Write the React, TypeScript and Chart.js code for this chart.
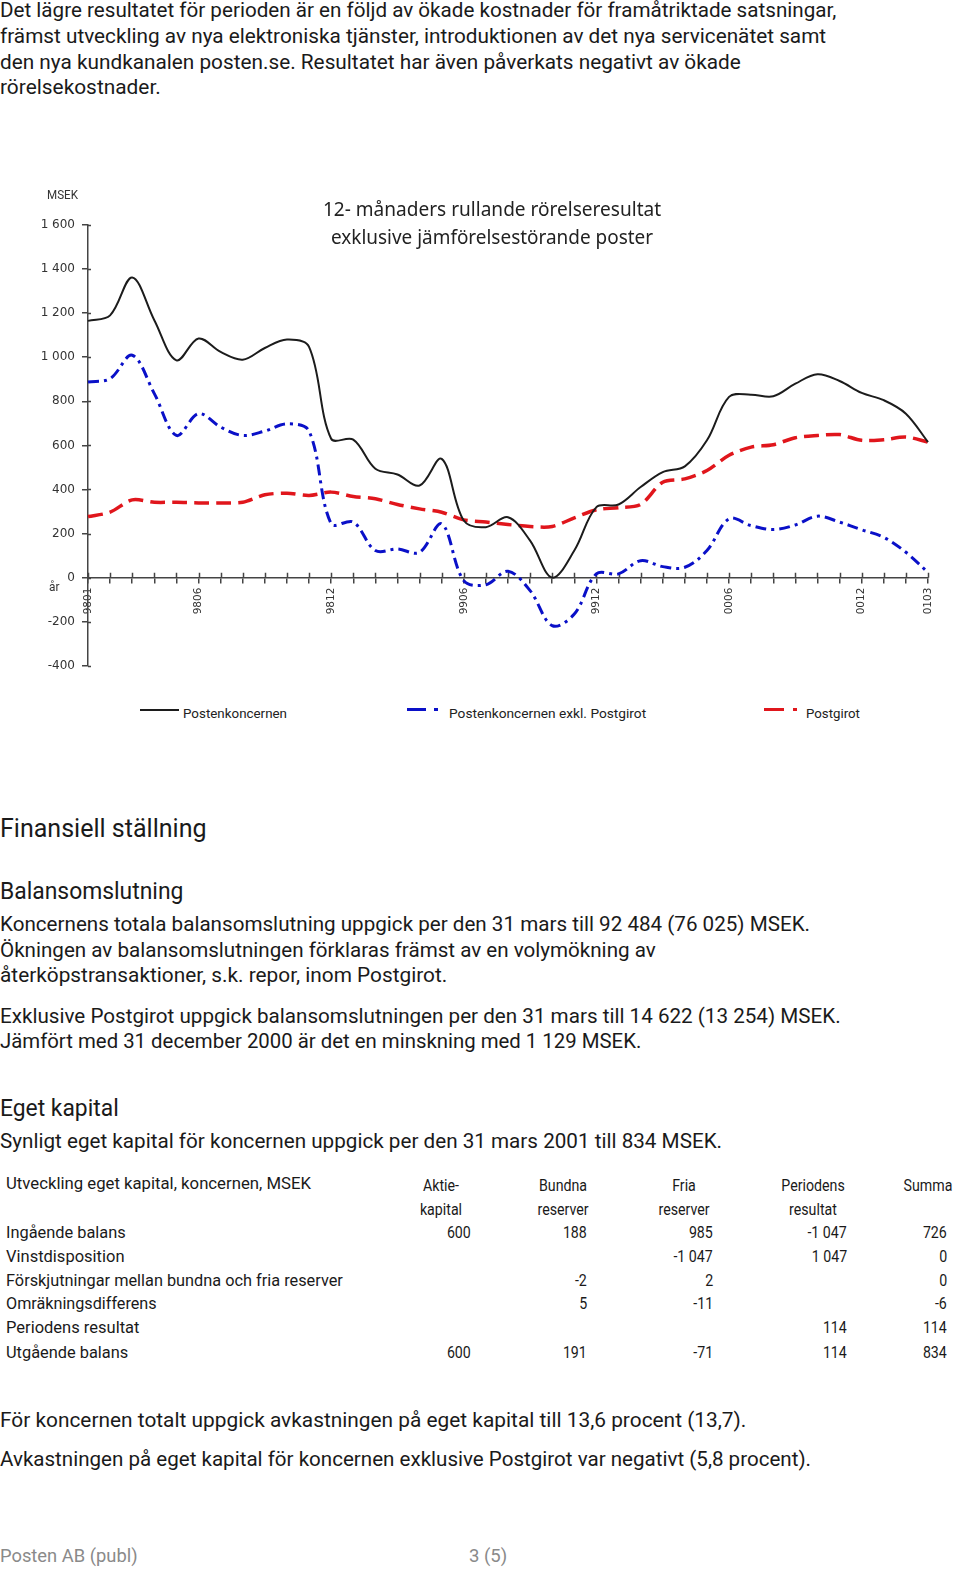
import React, { useEffect, useLayoutEffect, useRef } from 'react';
import { Chart, registerables } from 'chart.js';

Chart.register(...registerables);

// ---------- chart data ----------
const MONTHS = [
  '9801', '9802', '9803', '9804', '9805', '9806', '9807', '9808', '9809', '9810', '9811', '9812',
  '9901', '9902', '9903', '9904', '9905', '9906', '9907', '9908', '9909', '9910', '9911', '9912',
  '0001', '0002', '0003', '0004', '0005', '0006', '0007', '0008', '0009', '0010', '0011', '0012',
  '0101', '0102', '0103',
];
const SHOWN_MONTHS = ['9801', '9806', '9812', '9906', '9912', '0006', '0012', '0103'];
const Y_TICK_VALUES = [-400, -200, 0, 200, 400, 600, 800, 1000, 1200, 1400, 1600];

const SERIES_NAMES = ['Postenkoncernen', 'Postenkoncernen exkl. Postgirot', 'Postgirot'];

const POSTENKONCERNEN = [
  1165, 1190, 1362, 1168, 986, 1085, 1024, 989, 1042, 1080, 1047, 630,
  626, 494, 468, 418, 539, 259, 229, 274, 168, 0, 123, 320,
  332, 411, 479, 505, 623, 820, 830, 823, 880, 923, 892, 838,
  805, 744, 615,
];
const EXKL_POSTGIROT = [
  888, 903, 1009, 835, 645, 744, 683, 645, 665, 698, 665, 245,
  252, 123, 130, 115, 244, -14, -32, 29, -59, -218, -165, 17,
  17, 77, 50, 47, 123, 267, 236, 218, 239, 279, 252, 217,
  183, 115, 24,
];
const POSTGIROT = [
  277, 297, 353, 342, 342, 339, 339, 342, 376, 383, 373, 388,
  368, 358, 332, 312, 297, 262, 252, 241, 232, 232, 271, 308,
  317, 332, 433, 448, 486, 555, 592, 603, 635, 645, 649, 623,
  626, 638, 615,
];

const CHART_TITLE = ['12- månaders rullande rörelseresultat', 'exklusive jämförelsestörande poster'];

// ---------- page text data ----------
const INTRO_LINES = [
  'Det lägre resultatet för perioden är en följd av ökade kostnader för framåtriktade satsningar,',
  'främst utveckling av nya elektroniska tjänster, introduktionen av det nya servicenätet samt',
  'den nya kundkanalen posten.se. Resultatet har även påverkats negativt av ökade',
  'rörelsekostnader.',
];
const TABLE_TITLE = 'Utveckling eget kapital, koncernen, MSEK';
const TABLE_COLUMNS = [
  ['Aktie-', 'kapital'],
  ['Bundna', 'reserver'],
  ['Fria', 'reserver'],
  ['Periodens', 'resultat'],
  ['Summa', ''],
];
const TABLE_ROWS = [
  'Ingående balans',
  'Vinstdisposition',
  'Förskjutningar mellan bundna och fria reserver',
  'Omräkningsdifferens',
  'Periodens resultat',
  'Utgående balans',
];
const TABLE_VALUES = [
  ['600', '188', '985', '-1 047', '726'],
  ['', '', '-1 047', '1 047', '0'],
  ['', '-2', '2', '', '0'],
  ['', '5', '-11', '', '-6'],
  ['', '', '', '114', '114'],
  ['600', '191', '-71', '114', '834'],
];

// ---------- styles ----------
const BODY_FONT = 'Roboto, "Noto Sans", sans-serif';
const TEXT = '#1a1a1a';
const AXIS = '#444';

type TP = {
  x: number; y: number; size: number; w?: number; sx?: number;
  align?: 'left' | 'center' | 'right'; color?: string; family?: string; weight?: number;
  children: React.ReactNode;
};

function T({ x, y, size, w, sx = 1, align = 'left', color = TEXT, family = BODY_FONT, weight = 400, children }: TP) {
  const ref = useRef<HTMLSpanElement>(null);
  useLayoutEffect(() => {
    const el = ref.current;
    if (!el) return;
    const apply = () => {
      let s = sx;
      if (w) {
        const m = el.offsetWidth;
        if (m > 0) s = w / m;
      }
      el.style.transform = align === 'center' ? `translateX(-50%) scaleX(${s})` : `scaleX(${s})`;
    };
    apply();
    const f = (document as any).fonts;
    if (f && f.ready) f.ready.then(apply);
  }, [w, sx, align]);
  const style: React.CSSProperties = {
    position: 'absolute',
    top: y - size * 0.64 + 3.5,
    fontSize: size,
    lineHeight: `${size * 1.2}px`,
    whiteSpace: 'nowrap',
    fontFamily: family,
    color,
    fontWeight: weight,
    transformOrigin: align === 'right' ? 'right center' : align === 'center' ? 'center center' : 'left center',
  };
  if (align === 'right') style.right = 960 - x;
  else style.left = x;
  return <span ref={ref} style={style}>{children}</span>;
}

function fmtThousands(v: number): string {
  const a = Math.abs(v);
  const s = a >= 1000 ? `${Math.floor(a / 1000)} ${String(a % 1000).padStart(3, '0')}` : String(a);
  return v < 0 ? `-${s}` : s;
}

const crossTicks = {
  id: 'crossTicks',
  beforeDatasetsDraw(chart: any) {
    const xs = chart.scales.x;
    const ys = chart.scales.y;
    const y0 = ys.getPixelForValue(0);
    const ctx = chart.ctx;
    ctx.save();
    ctx.strokeStyle = AXIS;
    ctx.lineWidth = 1.5;
    ctx.beginPath();
    for (let i = 0; i < xs.ticks.length; i++) {
      const px = Math.round(xs.getPixelForTick(i)) + 0.5;
      ctx.moveTo(px, y0 - 5);
      ctx.lineTo(px, y0);
    }
    for (let i = 0; i < ys.ticks.length; i++) {
      const py = Math.round(ys.getPixelForTick(i)) + 0.5;
      ctx.moveTo(ys.right, py);
      ctx.lineTo(ys.right + 3, py);
    }
    ctx.stroke();
    ctx.restore();
  },
};

function LineChart() {
  const ref = useRef<HTMLCanvasElement>(null);
  useEffect(() => {
    if (!ref.current) return;
    const chart = new Chart(ref.current, {
      type: 'line',
      data: {
        labels: MONTHS,
        datasets: [
          {
            label: SERIES_NAMES[0], data: POSTENKONCERNEN, borderColor: '#1c1c1c', borderWidth: 2,
            tension: 0.35, pointRadius: 0, fill: false,
          },
          {
            label: SERIES_NAMES[1], data: EXKL_POSTGIROT, borderColor: '#0a10c8', borderWidth: 3,
            borderDash: [11, 5, 3, 5], tension: 0.35, pointRadius: 0, fill: false,
          },
          {
            label: SERIES_NAMES[2], data: POSTGIROT, borderColor: '#e0161c', borderWidth: 3.5,
            borderDash: [15, 7], tension: 0.3, pointRadius: 0, fill: false,
          },
        ],
      },
      options: {
        animation: false,
        responsive: false,
        events: [],
        layout: { padding: { top: 45, right: 32, bottom: 14, left: 0 } },
        plugins: { legend: { display: false }, tooltip: { enabled: false }, title: { display: false } },
        scales: {
          x: {
            type: 'category',
            position: { y: 0 } as any,
            offset: false,
            grid: { display: true, drawOnChartArea: false, drawTicks: true, tickLength: 5, color: AXIS, lineWidth: 1.5 },
            border: { display: true, color: AXIS, width: 1.5 },
            ticks: {
              autoSkip: false, maxRotation: 90, minRotation: 90, padding: 5,
              font: { family: '"DejaVu Sans"', size: 10.5 }, color: '#333',
              callback: (_v: any, i: number) => (SHOWN_MONTHS.includes(MONTHS[i]) ? MONTHS[i] : ''),
            },
          },
          y: {
            min: -400, max: 1600,
            afterBuildTicks: (s: any) => { s.ticks = Y_TICK_VALUES.map((v) => ({ value: v })); },
            afterFit: (s: any) => { s.width = 88; },
            grid: { display: true, drawOnChartArea: false, drawTicks: true, tickLength: 6, color: AXIS, lineWidth: 1.5 },
            border: { display: true, color: AXIS, width: 1.5 },
            ticks: {
              padding: 7, font: { family: '"DejaVu Sans"', size: 12 }, color: '#333',
              callback: (v: any) => fmtThousands(Number(v)),
            },
          },
        },
      },
      plugins: [crossTicks],
    });
    return () => chart.destroy();
  }, []);
  return <canvas ref={ref} width={960} height={500} style={{ display: 'block', position: 'absolute', left: 0, top: 180 }} />;
}

export default function App() {
  const colCenters = [441, 563, 684, 813, 928];
  const colRights = [471, 587, 713, 847, 947];
  const rowY = [1230, 1254, 1278, 1301, 1325, 1350];
  const rowW = [120, 119, 337, 151, 133, 122];
  return (
    <div style={{ position: 'absolute', left: 0, top: 0, width: 960, height: 1572, background: '#fff', overflow: 'hidden' }}>
      {/* intro */}
      <T x={0} y={8} size={21} w={836}>{INTRO_LINES[0]}</T>
      <T x={0} y={34} size={21} w={826}>{INTRO_LINES[1]}</T>
      <T x={0} y={60} size={21} w={741}>{INTRO_LINES[2]}</T>
      <T x={0} y={85} size={21} w={161}>{INTRO_LINES[3]}</T>

      {/* chart */}
      <LineChart />
      <T x={47} y={192} size={12} w={31} color="#333">MSEK</T>
      <T x={49} y={584} size={13} w={10} color="#333">år</T>
      <T x={492} y={207} size={19} w={338} align="center" family='"Noto Sans", sans-serif' color="#222">{CHART_TITLE[0]}</T>
      <T x={492} y={235} size={19} w={322} align="center" family='"Noto Sans", sans-serif' color="#222">{CHART_TITLE[1]}</T>

      {/* legend */}
      <div style={{ position: 'absolute', left: 140, top: 709, width: 39, height: 2, background: '#1c1c1c' }} />
      <T x={183} y={710} size={13.5} w={104} color="#222">{SERIES_NAMES[0]}</T>
      <div style={{ position: 'absolute', left: 407, top: 708, width: 19, height: 3, background: '#0a10c8' }} />
      <div style={{ position: 'absolute', left: 434, top: 708, width: 4, height: 3, background: '#0a10c8' }} />
      <T x={449} y={710} size={13.5} w={197} color="#222">{SERIES_NAMES[1]}</T>
      <div style={{ position: 'absolute', left: 764, top: 708, width: 20, height: 3, background: '#e0161c' }} />
      <div style={{ position: 'absolute', left: 793, top: 708, width: 4, height: 3, background: '#e0161c' }} />
      <T x={806} y={710} size={13.5} w={54} color="#222">{SERIES_NAMES[2]}</T>

      {/* Finansiell ställning */}
      <T x={0} y={826} size={26} w={207}>Finansiell ställning</T>
      <T x={0} y={889} size={24} w={183}>Balansomslutning</T>
      <T x={0} y={922} size={21} w={810}>Koncernens totala balansomslutning uppgick per den 31 mars till 92 484 (76 025) MSEK.</T>
      <T x={0} y={948} size={21} w={656}>Ökningen av balansomslutningen förklaras främst av en volymökning av</T>
      <T x={0} y={973} size={21} w={447}>återköpstransaktioner, s.k. repor, inom Postgirot.</T>
      <T x={0} y={1014} size={21} w={841}>Exklusive Postgirot uppgick balansomslutningen per den 31 mars till 14 622 (13 254) MSEK.</T>
      <T x={0} y={1039} size={21} w={641}>Jämfört med 31 december 2000 är det en minskning med 1 129 MSEK.</T>

      {/* Eget kapital */}
      <T x={0} y={1106} size={24} w={119}>Eget kapital</T>
      <T x={0} y={1139} size={21} w={722}>Synligt eget kapital för koncernen uppgick per den 31 mars 2001 till 834 MSEK.</T>

      {/* table */}
      <T x={6} y={1181} size={16.5} w={305}>{TABLE_TITLE}</T>
      {TABLE_COLUMNS.map((c, i) => (
        <React.Fragment key={'c' + i}>
          <T x={colCenters[i]} y={1183} size={16.5} sx={0.86} align="center">{c[0]}</T>
          {c[1] ? <T x={colCenters[i]} y={1207} size={16.5} sx={0.86} align="center">{c[1]}</T> : null}
        </React.Fragment>
      ))}
      {TABLE_ROWS.map((r, ri) => (
        <React.Fragment key={'r' + ri}>
          <T x={6} y={rowY[ri]} size={16.5} w={rowW[ri]}>{r}</T>
          {TABLE_VALUES[ri].map((v, ci) =>
            v ? <T key={ci} x={colRights[ci]} y={rowY[ri]} size={16.5} sx={0.86} align="right">{v}</T> : null,
          )}
        </React.Fragment>
      ))}

      <T x={0} y={1418} size={21} w={746}>För koncernen totalt uppgick avkastningen på eget kapital till 13,6 procent (13,7).</T>
      <T x={0} y={1457} size={21} w={811}>Avkastningen på eget kapital för koncernen exklusive Postgirot var negativt (5,8 procent).</T>

      {/* footer */}
      <T x={0} y={1554} size={19} w={138} color="#8a8a8a">Posten AB (publ)</T>
      <T x={469} y={1554} size={19} w={38} color="#8a8a8a">3 (5)</T>
    </div>
  );
}
